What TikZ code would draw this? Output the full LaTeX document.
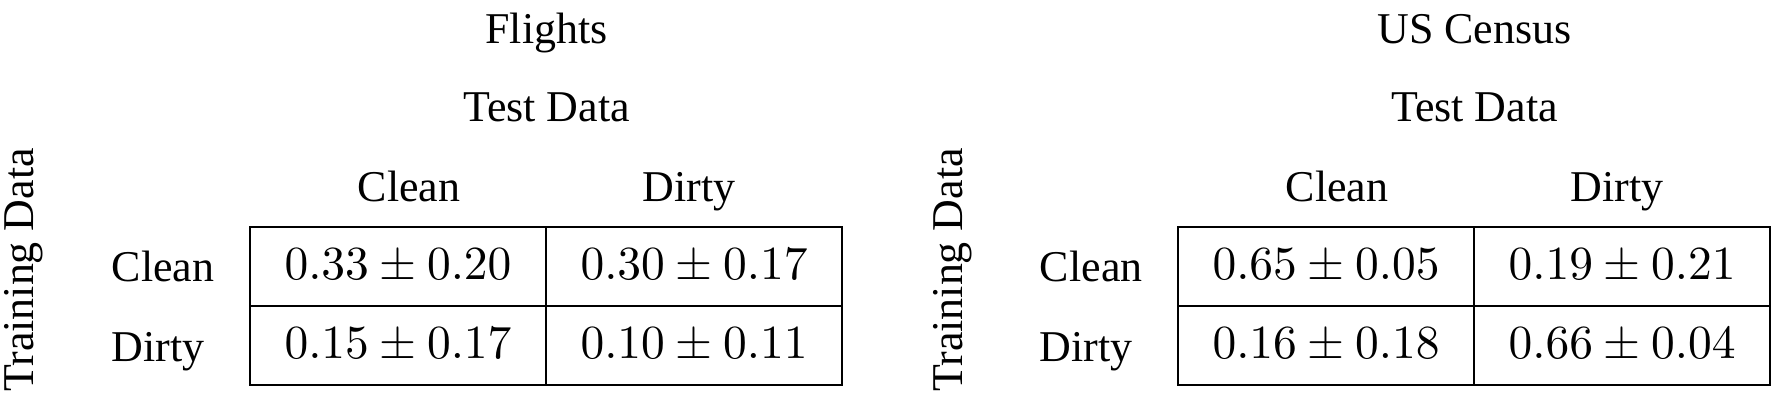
\documentclass[tikz,border=0pt]{standalone}
\usepackage[no-math]{fontspec}
\setmainfont{Liberation Serif}
\usepackage{amsmath}
\usetikzlibrary{positioning}

\begin{document}
\begin{tikzpicture}[
        x=0.2105pt, y=-0.2105pt,
        cell/.style = {draw, line width=0.4pt, minimum width=62.31pt, minimum height=16.63pt, inner sep=0pt, outer sep=0pt, font=\fontsize{10}{12}\selectfont},
        lbl/.style = {inner sep=0pt, anchor=base, font=\fontsize{9.25}{11}\selectfont}
        ]
    \useasboundingbox (0,0) rectangle (1777,402);

    \foreach \t/\name/\dx/\va/\vb/\vc/\vd in {
        f/Flights/0/{0.33 \pm 0.20}/{0.30 \pm 0.17}/{0.15 \pm 0.17}/{0.10 \pm 0.11},
        c/US Census/928/{0.65 \pm 0.05}/{0.19 \pm 0.21}/{0.16 \pm 0.18}/{0.66 \pm 0.04}}
    {
    \begin{scope}[shift={(\dx,0)}]
        % Ueberschriften
        \node[lbl] (\t-title) at (546.5,43.3) {\name};
        \node[lbl] (\t-test) at (546.5,121.7) {Test Data};
        \node[lbl] (\t-hclean) at (409,201.7) {Clean};
        \node[lbl] (\t-hdirty) at (689,201.7) {Dirty};
        \node[lbl, rotate=90] (\t-train) at (34,270) {Training Data};
        \node[lbl, anchor=base west] (\t-rclean) at (111,282) {Clean};
        \node[lbl, anchor=base west] (\t-rdirty) at (111,362) {Dirty};

        % Zellen
        \node[cell] (\t11) at (398,266.5) {$\va$};
        \node[cell, right=0pt of \t11] (\t12) {$\vb$};
        \node[cell, below=0pt of \t11] (\t21) {$\vc$};
        \node[cell, right=0pt of \t21] (\t22) {$\vd$};
    \end{scope}
    }

\end{tikzpicture}
\end{document}
